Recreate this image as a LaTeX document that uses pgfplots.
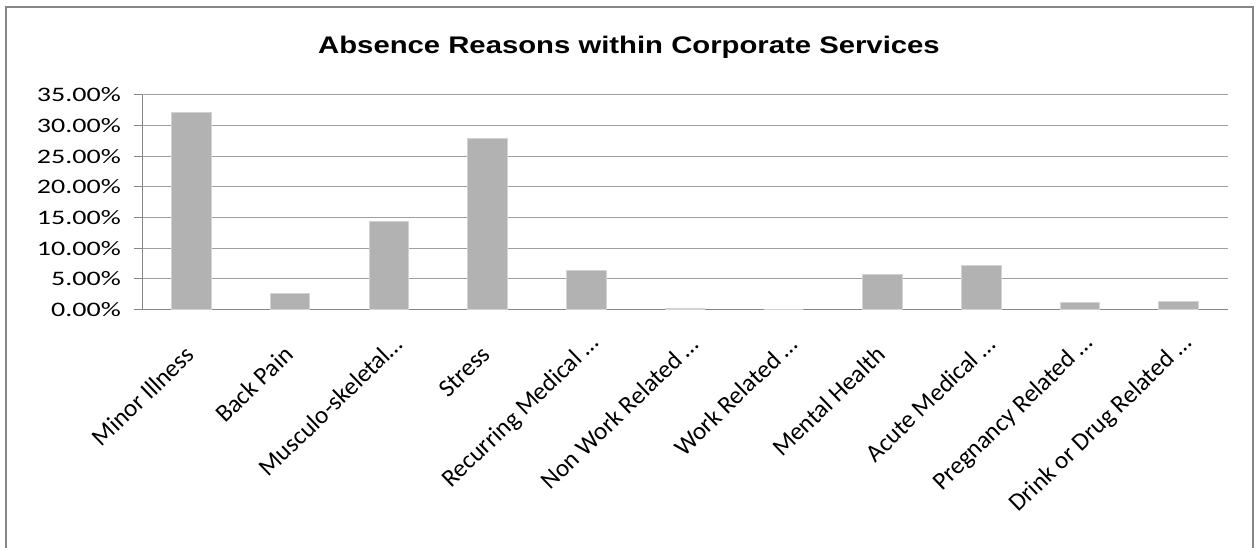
\documentclass[border=0pt]{standalone}
\usepackage{fontspec}
\usepackage{pgfplots}
\pgfplotsset{compat=1.18}
\newfontfamily\ylabfont[FakeStretch=1.36]{Carlito}
\newfontfamily\xlabfont{Carlito}
\newfontfamily\titlefont[FakeStretch=1.22]{Liberation Sans}
\definecolor{barfill}{RGB}{178,178,178}
\definecolor{bardraw}{RGB}{210,210,210}
\definecolor{gridc}{RGB}{160,160,160}
\definecolor{axisc}{RGB}{134,134,134}
\definecolor{borderc}{RGB}{134,134,134}
\begin{document}
\begin{tikzpicture}[x=1pt,y=1pt]
\useasboundingbox (0,0) rectangle (1256,548);
\draw[borderc, line width=1.5pt] (6,-10) -- (6,541) -- (1253,541) -- (1253,-10);
\node[font=\titlefont\bfseries\fontsize{24}{28}\selectfont, anchor=base, inner sep=0pt] at (629,494) {Absence Reasons within Corporate Services};
\begin{axis}[
  at={(142pt,238.7pt)}, anchor=south west,
  scale only axis, width=1086pt, height=214.3pt,
  xmin=-0.5, xmax=10.5, ymin=0, ymax=35,
  axis lines*=left,
  axis line style={-, draw=axisc, line width=1pt},
  xtick pos=left, ytick pos=left,
  tick align=outside,
  major tick length=8pt,
  minor tick length=10pt,
  tick style={draw=axisc, line width=1pt},
  xtick={0,...,10},
  xtick style={draw=none},
  minor xtick={-0.5,0.5,...,10.5},
  xticklabels={Minor Illness, Back Pain, Musculo-skeletal…\kern-15pt, Stress, Recurring Medical …\kern-15pt, Non Work Related …\kern-15pt, Work Related …\kern-15pt, Mental Health, Acute Medical …\kern-15pt, Pregnancy Related …\kern-15pt, Drink or Drug Related …\kern-15pt},
  xticklabel style={font=\xlabfont\fontsize{25}{28}\selectfont, rotate=44, anchor=east, inner sep=0pt, xshift=-24pt, yshift=-23pt},
  ytick={0,5,...,35},
  yticklabels={0.00\%,5.00\%,10.00\%,15.00\%,20.00\%,25.00\%,30.00\%,35.00\%},
  yticklabel style={font=\ylabfont\fontsize{20.6}{24}\selectfont, anchor=east, inner sep=0pt, xshift=-13pt},
  ymajorgrids,
  grid style={draw=gridc, line width=1pt},
  ybar, bar width=0.4,
]
\addplot[fill=barfill, draw=bardraw, line width=0.8pt] coordinates {
  (0,32.1) (1,2.55) (2,14.3) (3,27.9) (4,6.3) (5,0.2) (6,0) (7,5.7) (8,7.2) (9,1.15) (10,1.35)
};
\end{axis}
\end{tikzpicture}
\end{document}
